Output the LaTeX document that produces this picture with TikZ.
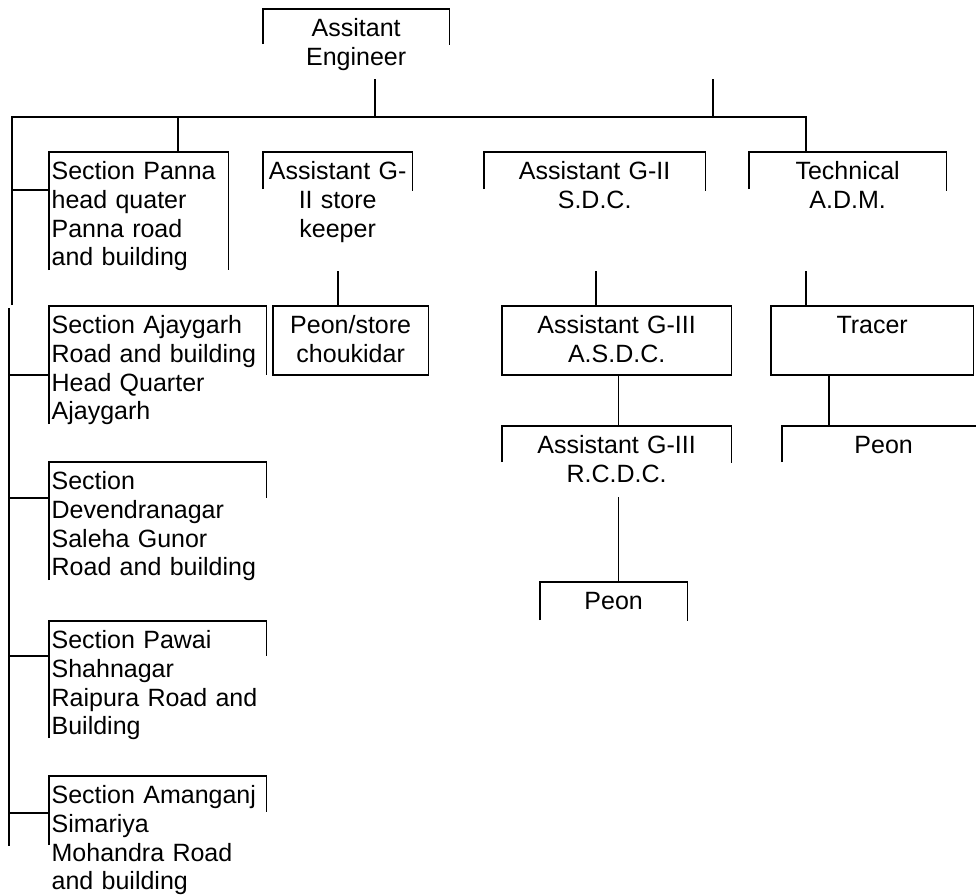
\documentclass[tikz,border=0pt]{standalone}
\usepackage{fontspec}
\setmainfont{Liberation Sans}
\begin{document}
\begin{tikzpicture}[x=1pt, y=-1pt, line width=1.3pt,
	post/.style={anchor=north west, inner xsep=2pt, inner ysep=9pt, text height=18pt, font=\fontsize{25}{28.75}\selectfont},
	cpost/.style={post, align=center},
	lpost/.style={post, align=left},
	link/.style={line width=1.8pt},
	bus/.style={line width=2.6pt},
	fine/.style={line width=1pt}]
	\useasboundingbox (0,0) rectangle (976,895);
	% posts
	\node[cpost, text width=181pt] (ae) at (263,9) {Assitant\\Engineer};
	\node[lpost, text width=174pt] (panna) at (49,152) {Section Panna\\head quater\\Panna road\\and building};
	\node[cpost, text width=144pt] (store) at (263,152) {Assistant G-\\II store\\keeper};
	\node[cpost, text width=216pt] (sdc) at (484,152) {Assistant G-II\\S.D.C.};
	\node[cpost, text width=192pt] (adm) at (749,152) {Technical\\A.D.M.};
	\node[cpost, text width=150pt] (peonstore) at (273,306) {Peon/store\\choukidar};
	\node[lpost, text width=212pt] (ajay) at (49,306) {Section Ajaygarh\\Road and building\\Head Quarter\\Ajaygarh};
	\node[lpost, text width=212pt] (deven) at (49,462) {Section\\Devendranagar\\Saleha Gunor\\Road and building};
	\node[lpost, text width=212pt] (pawai) at (49,621) {Section Pawai\\Shahnagar\\Raipura Road and\\Building};
	\node[lpost, text width=212pt] (aman) at (49,776) {Section Amanganj\\Simariya\\Mohandra Road\\and building};
	\node[cpost, text width=224pt] (asdc) at (502,306) {Assistant G-III\\A.S.D.C.};
	\node[cpost, text width=224pt] (rcdc) at (502,426) {Assistant G-III\\R.C.D.C.};
	\node[cpost, text width=142pt] (peonsdc) at (540,582) {Peon};
	\node[cpost, text width=197pt] (tracer) at (771,306) {Tracer};
	\node[cpost, text width=198pt] (peontr) at (782,426) {Peon};
	% open boxes
	\draw
		(ae.north west) ++(0,35) -- (ae.north west) -- (ae.north east) -- ++(0,36)
		(panna.north west) ++(0,118) -- (panna.north west) -- (panna.north east) -- ++(0,118)
		(store.north west) ++(0,37) -- (store.north west) -- (store.north east) -- ++(0,39)
		(sdc.north west) ++(0,37) -- (sdc.north west) -- (sdc.north east) -- ++(0,39)
		(adm.north west) ++(0,37) -- (adm.north west) -- (adm.north east) -- ++(0,39)
		(ajay.north west) ++(0,118) -- (ajay.north west) -- (ajay.north east) -- ++(0,69)
		(deven.north west) ++(0,118) -- (deven.north west) -- (deven.north east) -- ++(0,36)
		(pawai.north west) ++(0,117) -- (pawai.north west) -- (pawai.north east) -- ++(0,35)
		(aman.north west) ++(0,69) -- (aman.north west) -- (aman.north east) -- ++(0,36)
		(rcdc.north west) ++(0,36) -- (rcdc.north west) -- (rcdc.north east) -- ++(0,37)
		(peonsdc.north west) ++(0,38) -- (peonsdc.north west) -- (peonsdc.north east) -- ++(0,39)
		(peontr.north west) ++(0,36) -- (peontr.north west) -- ++(194,0)
	;
	% closed boxes
	\draw
		(peonstore.north west) rectangle ([yshift=-69pt]peonstore.north east)
		(asdc.north west) rectangle ([yshift=-69pt]asdc.north east)
		(tracer.north west) rectangle ([yshift=-69pt]tracer.north east)
	;
	% connectors
	\path
		(12,117) coordinate (busL)
		(806,117) coordinate (busR)
		(375,79) coordinate (aedrop)
		(713,79) coordinate (stub)
		(178,117) coordinate (pannadrop)
		(12,305) coordinate (spineA)
		(9,308) coordinate (spineB)
		(9,846) coordinate (spineE)
		(338,271) coordinate (storedrop)
		(596,271) coordinate (sdcdrop)
		(806,271) coordinate (admdrop)
		(618,375) coordinate (asdcdrop)
		(618,497) coordinate (rcdcdrop)
		(829,375) coordinate (tracerdrop)
	;
	\draw[bus] (spineA) -- (busL) -- (busR) -- (busR |- adm.north);
	\draw[link]
		(aedrop) -- (aedrop |- busL)
		(stub) -- (stub |- busL)
		(pannadrop) -- (pannadrop |- panna.north)
		(spineB) -- (spineE)
		([yshift=-38pt]panna.north west) -- (spineA |- 0,190)
		([yshift=-69pt]ajay.north west) -- ++(-40,0)
		([yshift=-36pt]deven.north west) -- ++(-40,0)
		([yshift=-35pt]pawai.north west) -- ++(-40,0)
		([yshift=-37pt]aman.north west) -- ++(-40,0)
		(storedrop) -- (storedrop |- peonstore.north)
		(sdcdrop) -- (sdcdrop |- asdc.north)
		(admdrop) -- (admdrop |- tracer.north)
		(tracerdrop) -- (tracerdrop |- peontr.north)
	;
	\draw[fine]
		(asdcdrop) -- (asdcdrop |- rcdc.north)
		(rcdcdrop) -- (rcdcdrop |- peonsdc.north)
	;
\end{tikzpicture}
\end{document}
